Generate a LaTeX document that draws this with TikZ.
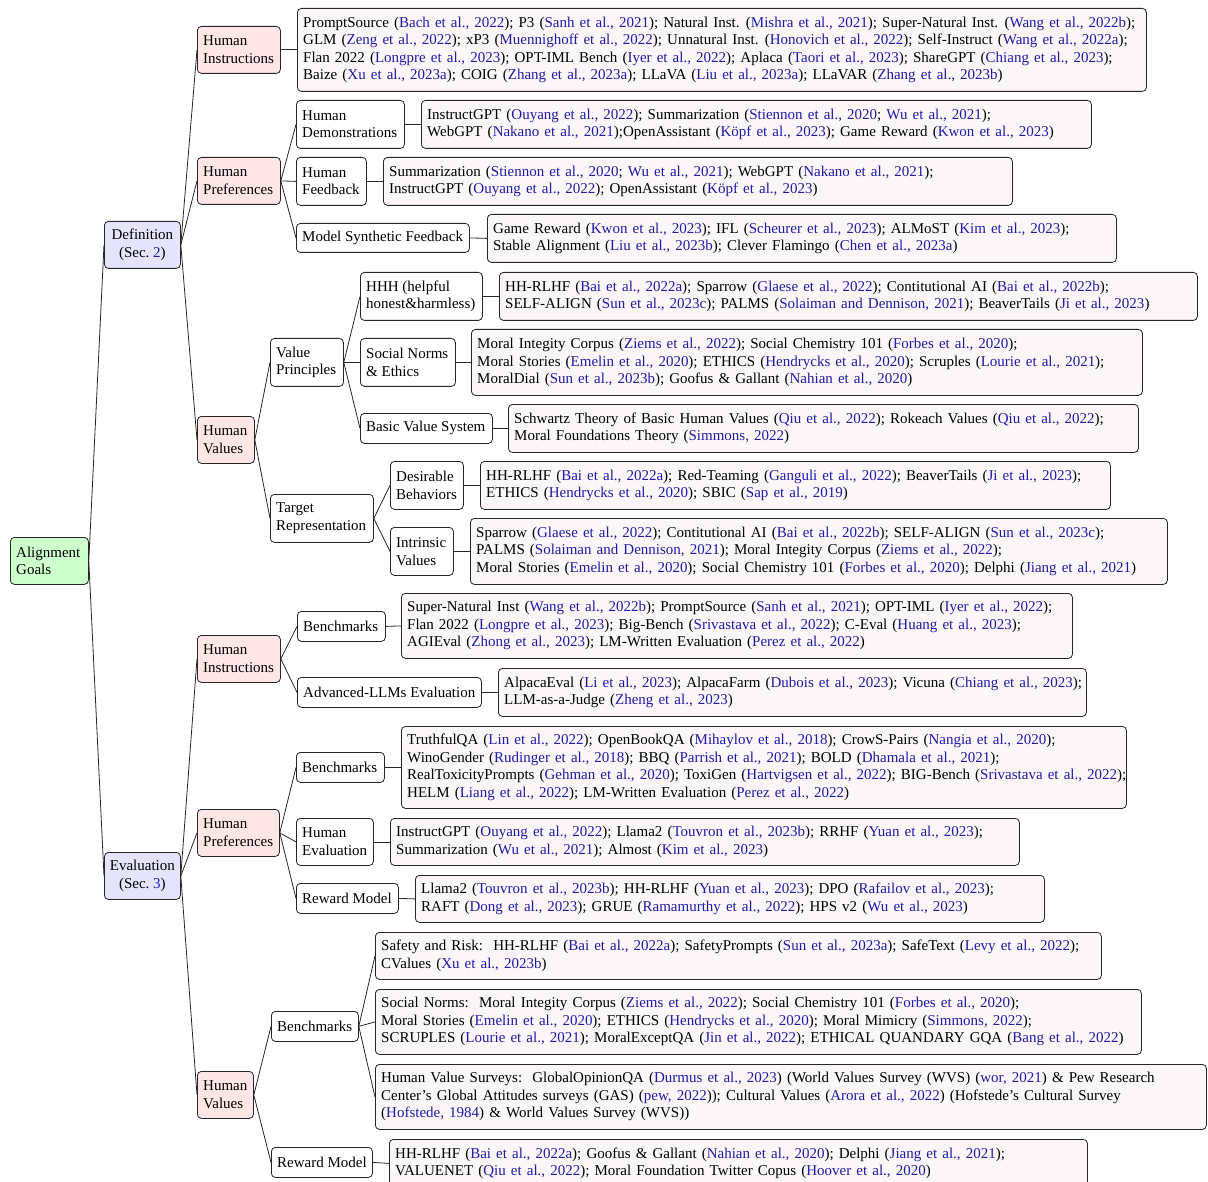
\documentclass[tikz,border=0pt]{standalone}
\usepackage{fontspec}
\setmainfont{Liberation Serif}
\usetikzlibrary{backgrounds}
\definecolor{cgreen}{RGB}{204,255,204}
\definecolor{clav}{RGB}{228,228,252}
\definecolor{cpink}{RGB}{255,230,230}
\definecolor{cleaf}{RGB}{253,246,248}
\definecolor{citec}{RGB}{28,28,168}
\newcommand\cc[1]{{\color{citec}#1}}
\newcommand\leaffont{\fontsize{15}{17.5}\selectfont\spaceskip=5.1pt plus 1pt minus 1pt\relax}
\tikzset{
  base/.style={draw=black!85, line width=0.8pt, rounded corners=4pt, inner sep=0pt},
  rootbox/.style={base, fill=cgreen},
  secbox/.style={base, fill=clav},
  catbox/.style={base, fill=cpink},
  subbox/.style={base, fill=white},
  leafbox/.style={base, fill=cleaf},
  txt/.style={inner sep=0pt, align=left, font=\fontsize{15}{17.5}\selectfont},
  ltxt/.style={inner sep=0pt, align=left, font=\leaffont},
  ctxt/.style={inner sep=0pt, align=center, font=\fontsize{15}{17.5}\selectfont},
  edge/.style={draw=black!85, line width=0.8pt}
}
% #1 style, #2 name, #3 x, #4 y(top), #5 width, #6 height, #7 text
\newcommand\bx[7]{\node[#1, anchor=north west, minimum width=#5pt, minimum height=#6pt] (#2) at (#3,#4) {};
  \node[txt, anchor=west] at ([xshift=6pt]#2.west) {#7};}
\newcommand\lbx[6]{\node[leafbox, anchor=north west, minimum width=#4pt, minimum height=#5pt] (#1) at (#2,#3) {};
  \node[ltxt, anchor=west] at ([xshift=6pt]#1.west) {#6};}
\newcommand\cbx[7]{\node[#1, anchor=north west, minimum width=#5pt, minimum height=#6pt] (#2) at (#3,#4) {};
  \node[ctxt] at (#2.center) {#7};}
\begin{document}
\begin{tikzpicture}[x=1pt,y=-1pt]
\useasboundingbox (0,0) rectangle (1208,1182);
% root and sections
\bx{rootbox}{ag}{10}{537}{78}{47}{Alignment\\Goals}
\cbx{secbox}{def}{104}{221}{76}{47}{Definition\\(Sec.~\cc{2})}
\cbx{secbox}{eva}{104}{852}{76}{47}{Evaluation\\(Sec.~\cc{3})}
% categories
\bx{catbox}{hia}{197}{26}{83}{47}{Human\\Instructions}
\bx{catbox}{hpa}{197}{157}{83}{47}{Human\\Preferences}
\bx{catbox}{hva}{197}{416}{57}{47}{Human\\Values}
\bx{catbox}{hib}{197}{635}{83}{47}{Human\\Instructions}
\bx{catbox}{hpb}{197}{809}{82}{47}{Human\\Preferences}
\bx{catbox}{hvb}{197}{1071}{56}{47}{Human\\Values}
% sub boxes
\bx{subbox}{hd}{296}{100}{108}{48}{Human\\Demonstrations}
\bx{subbox}{hf}{296}{157}{70}{48}{Human\\Feedback}
\bx{subbox}{msf}{296}{223}{173}{29}{Model Synthetic Feedback}
\bx{subbox}{vp}{270}{338}{73}{48}{Value\\Principles}
\bx{subbox}{tr}{270}{494}{103}{48}{Target\\Representation}
\bx{subbox}{hhh}{360}{272}{122}{48}{HHH (helpful\\honest\&harmless)}
\bx{subbox}{sne}{360}{338}{95}{48}{Social Norms\\\& Ethics}
\bx{subbox}{bvs}{360}{413}{132}{30}{Basic Value System}
\bx{subbox}{db}{390}{461}{73}{48}{Desirable\\Behaviors}
\bx{subbox}{iv}{390}{527}{63}{48}{Intrinsic\\Values}
\bx{subbox}{bma}{297}{611}{88}{30}{Benchmarks}
\bx{subbox}{ale}{297}{677}{184}{30}{Advanced-LLMs Evaluation}
\bx{subbox}{bmb}{296}{752}{88}{30}{Benchmarks}
\bx{subbox}{he}{296}{818}{77}{47}{Human\\Evaluation}
\bx{subbox}{rma}{296}{883}{102}{30}{Reward Model}
\bx{subbox}{bmc}{271}{1011}{87}{30}{Benchmarks}
\bx{subbox}{rmb}{271}{1147}{101}{30}{Reward Model}
% leaves
\lbx{lhia}{297}{8}{849}{83}{PromptSource (\cc{Bach et al., 2022}); P3 (\cc{Sanh et al., 2021}); Natural Inst. (\cc{Mishra et al., 2021}); Super-Natural Inst. (\cc{Wang et al., 2022b});\\GLM (\cc{Zeng et al., 2022}); xP3 (\cc{Muennighoff et al., 2022}); Unnatural Inst. (\cc{Honovich et al., 2022}); Self-Instruct (\cc{Wang et al., 2022a});\\Flan 2022 (\cc{Longpre et al., 2023}); OPT-IML Bench (\cc{Iyer et al., 2022}); Aplaca (\cc{Taori et al., 2023}); ShareGPT (\cc{Chiang et al., 2023});\\Baize (\cc{Xu et al., 2023a}); COIG (\cc{Zhang et al., 2023a}); LLaVA (\cc{Liu et al., 2023a}); LLaVAR (\cc{Zhang et al., 2023b})}
\lbx{lhd}{421}{100}{670}{48}{InstructGPT (\cc{Ouyang et al., 2022}); Summarization (\cc{Stiennon et al., 2020}; \cc{Wu et al., 2021});\\WebGPT (\cc{Nakano et al., 2021});OpenAssistant (\cc{Köpf et al., 2023}); Game Reward (\cc{Kwon et al., 2023})}
\lbx{lhf}{383}{157}{629}{48}{Summarization (\cc{Stiennon et al., 2020}; \cc{Wu et al., 2021}); WebGPT (\cc{Nakano et al., 2021});\\InstructGPT (\cc{Ouyang et al., 2022}); OpenAssistant (\cc{Köpf et al., 2023})}
\lbx{lmsf}{487}{214}{629}{48}{Game Reward (\cc{Kwon et al., 2023}); IFL (\cc{Scheurer et al., 2023}); ALMoST (\cc{Kim et al., 2023});\\Stable Alignment (\cc{Liu et al., 2023b}); Clever Flamingo (\cc{Chen et al., 2023a})}
\lbx{lhhh}{499}{272}{698}{48}{HH-RLHF (\cc{Bai et al., 2022a}); Sparrow (\cc{Glaese et al., 2022}); Contitutional AI (\cc{Bai et al., 2022b});\\SELF-ALIGN (\cc{Sun et al., 2023c}); PALMS (\cc{Solaiman and Dennison, 2021}); BeaverTails (\cc{Ji et al., 2023})}
\lbx{lsne}{471}{329}{671}{66}{Moral Integity Corpus (\cc{Ziems et al., 2022}); Social Chemistry 101 (\cc{Forbes et al., 2020});\\Moral Stories (\cc{Emelin et al., 2020}); ETHICS (\cc{Hendrycks et al., 2020}); Scruples (\cc{Lourie et al., 2021});\\MoralDial (\cc{Sun et al., 2023b}); Goofus \& Gallant (\cc{Nahian et al., 2020})}
\lbx{lbvs}{508}{404}{630}{48}{Schwartz Theory of Basic Human Values (\cc{Qiu et al., 2022}); Rokeach Values (\cc{Qiu et al., 2022});\\Moral Foundations Theory (\cc{Simmons, 2022})}
\lbx{ldb}{480}{461}{630}{48}{HH-RLHF (\cc{Bai et al., 2022a}); Red-Teaming (\cc{Ganguli et al., 2022}); BeaverTails (\cc{Ji et al., 2023});\\ETHICS (\cc{Hendrycks et al., 2020}); SBIC (\cc{Sap et al., 2019})}
\lbx{liv}{470}{518}{697}{66}{Sparrow (\cc{Glaese et al., 2022}); Contitutional AI (\cc{Bai et al., 2022b}); SELF-ALIGN (\cc{Sun et al., 2023c});\\PALMS (\cc{Solaiman and Dennison, 2021}); Moral Integity Corpus (\cc{Ziems et al., 2022});\\Moral Stories (\cc{Emelin et al., 2020}); Social Chemistry 101 (\cc{Forbes et al., 2020}); Delphi (\cc{Jiang et al., 2021})}
\lbx{lbma}{401}{593}{671}{65}{Super-Natural Inst (\cc{Wang et al., 2022b}); PromptSource (\cc{Sanh et al., 2021}); OPT-IML (\cc{Iyer et al., 2022});\\Flan 2022 (\cc{Longpre et al., 2023}); Big-Bench (\cc{Srivastava et al., 2022}); C-Eval (\cc{Huang et al., 2023});\\AGIEval (\cc{Zhong et al., 2023}); LM-Written Evaluation (\cc{Perez et al., 2022})}
\lbx{lale}{498}{668}{588}{48}{AlpacaEval (\cc{Li et al., 2023}); AlpacaFarm (\cc{Dubois et al., 2023}); Vicuna (\cc{Chiang et al., 2023});\\LLM-as-a-Judge (\cc{Zheng et al., 2023})}
\lbx{lbmb}{401}{726}{725}{82}{TruthfulQA (\cc{Lin et al., 2022}); OpenBookQA (\cc{Mihaylov et al., 2018}); CrowS-Pairs (\cc{Nangia et al., 2020});\\WinoGender (\cc{Rudinger et al., 2018}); BBQ (\cc{Parrish et al., 2021}); BOLD (\cc{Dhamala et al., 2021});\\RealToxicityPrompts (\cc{Gehman et al., 2020}); ToxiGen (\cc{Hartvigsen et al., 2022}); BIG-Bench (\cc{Srivastava et al., 2022});\\HELM (\cc{Liang et al., 2022}); LM-Written Evaluation (\cc{Perez et al., 2022})}
\lbx{lhe}{390}{818}{629}{47}{InstructGPT (\cc{Ouyang et al., 2022}); Llama2 (\cc{Touvron et al., 2023b}); RRHF (\cc{Yuan et al., 2023});\\Summarization (\cc{Wu et al., 2021}); Almost (\cc{Kim et al., 2023})}
\lbx{lrma}{415}{875}{629}{47}{Llama2 (\cc{Touvron et al., 2023b}); HH-RLHF (\cc{Yuan et al., 2023}); DPO (\cc{Rafailov et al., 2023});\\RAFT (\cc{Dong et al., 2023}); GRUE (\cc{Ramamurthy et al., 2022}); HPS v2 (\cc{Wu et al., 2023})}
\lbx{lsa}{375}{932}{726}{47}{Safety and Risk:\ \ HH-RLHF (\cc{Bai et al., 2022a}); SafetyPrompts (\cc{Sun et al., 2023a}); SafeText (\cc{Levy et al., 2022});\\CValues (\cc{Xu et al., 2023b})}
\lbx{lsb}{375}{989}{766}{65}{Social Norms:\ \ Moral Integity Corpus (\cc{Ziems et al., 2022}); Social Chemistry 101 (\cc{Forbes et al., 2020});\\Moral Stories (\cc{Emelin et al., 2020}); ETHICS (\cc{Hendrycks et al., 2020}); Moral Mimicry (\cc{Simmons, 2022});\\SCRUPLES (\cc{Lourie et al., 2021}); MoralExceptQA (\cc{Jin et al., 2022}); ETHICAL QUANDARY GQA (\cc{Bang et al., 2022})}
\lbx{lsc}{375}{1064}{831}{65}{Human Value Surveys:\ \ GlobalOpinionQA (\cc{Durmus et al., 2023}) (World Values Survey (WVS) (\cc{wor, 2021}) \& Pew Research\\Center's Global Attitudes surveys (GAS) (\cc{pew, 2022})); Cultural Values (\cc{Arora et al., 2022}) (Hofstede's Cultural Survey\\(\cc{Hofstede, 1984}) \& World Values Survey (WVS))}
\lbx{lrmb}{389}{1139}{698}{48}{HH-RLHF (\cc{Bai et al., 2022a}); Goofus \& Gallant (\cc{Nahian et al., 2020}); Delphi (\cc{Jiang et al., 2021});\\VALUENET (\cc{Qiu et al., 2022}); Moral Foundation Twitter Copus (\cc{Hoover et al., 2020})}
% edges
\begin{scope}[on background layer]
\foreach \a/\b in {ag/def, ag/eva, def/hia, def/hpa, def/hva, hia/lhia,
  hpa/hd, hpa/hf, hpa/msf, hd/lhd, hf/lhf, msf/lmsf,
  hva/vp, hva/tr, vp/hhh, vp/sne, vp/bvs, hhh/lhhh, sne/lsne, bvs/lbvs,
  tr/db, tr/iv, db/ldb, iv/liv,
  eva/hib, eva/hpb, eva/hvb, hib/bma, hib/ale, bma/lbma, ale/lale,
  hpb/bmb, hpb/he, hpb/rma, bmb/lbmb, he/lhe, rma/lrma,
  hvb/bmc, hvb/rmb, bmc/lsa, bmc/lsb, bmc/lsc, rmb/lrmb}
  \draw[edge] (\a.east) -- (\b.west);
\end{scope}
\end{tikzpicture}
\end{document}
